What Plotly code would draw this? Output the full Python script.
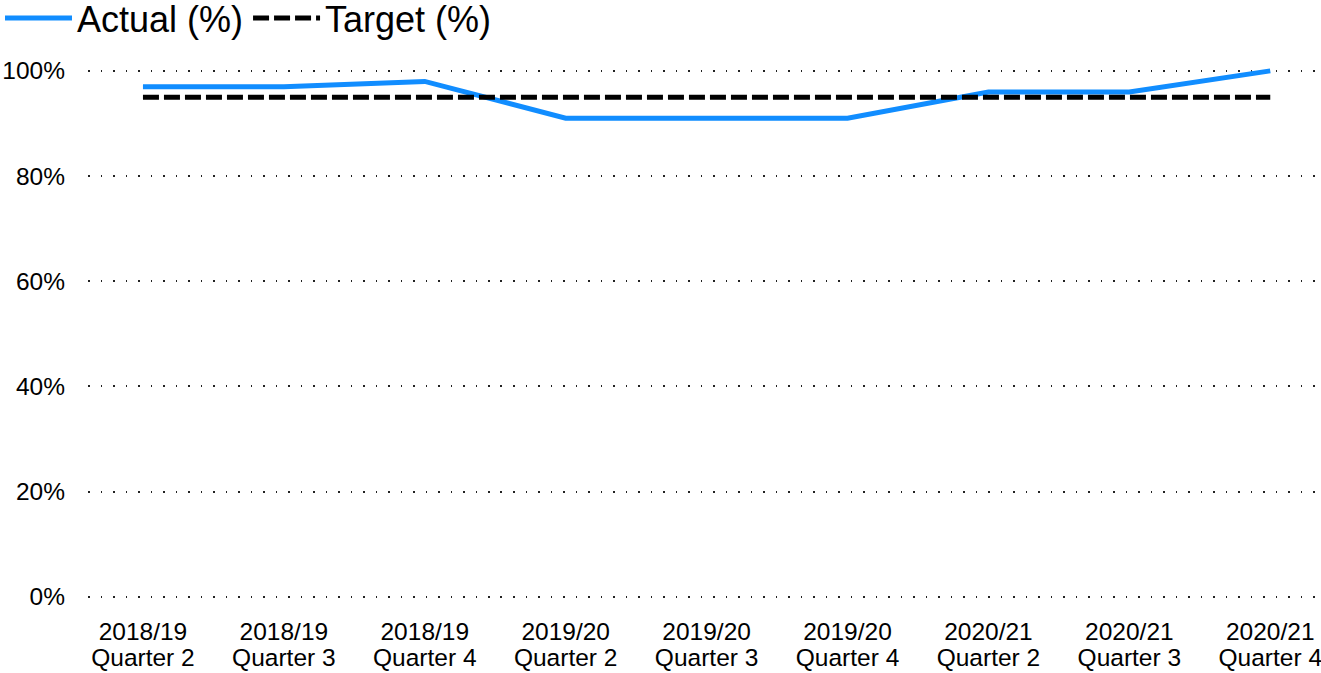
import plotly.graph_objects as go

# Quarterly performance against target
years = ["2018/19", "2018/19", "2018/19", "2019/20", "2019/20", "2019/20",
         "2020/21", "2020/21", "2020/21"]
quarters = ["Quarter 2", "Quarter 3", "Quarter 4"] * 3
periods = [f"{y} {q}" for y, q in zip(years, quarters)]
actual_pct = [97, 97, 98, 91, 91, 91, 96, 96, 100]
target_pct = [95, 95, 95, 95, 95, 95, 95, 95, 95]
y_ticks = [0, 20, 40, 60, 80, 100]
y_tick_labels = ["0%", "20%", "40%", "60%", "80%", "100%"]

FONT = "Liberation Sans, Arial, sans-serif"
LABEL_PX = 24.5

# Two-line category labels, set tighter than the default line spacing
span = "<span style='font-size:%spx'>%s</span>"
x_tick_text = [span % (LABEL_PX, y) + "<br>" + span % (LABEL_PX, q)
               for y, q in zip(years, quarters)]

fig = go.Figure()
fig.add_trace(go.Scatter(
    x=periods, y=actual_pct, mode="lines", name="Actual (%)",
    line=dict(color="#118DFF", width=5),
))
fig.add_trace(go.Scatter(
    x=periods, y=target_pct, mode="lines", name="Target (%)",
    line=dict(color="#000000", width=5, dash="16px,5px"),
))

fig.update_layout(
    width=1321, height=673,
    margin=dict(l=88, r=1, t=63, b=71, autoexpand=False),
    paper_bgcolor="white", plot_bgcolor="white",
    font=dict(family=FONT, color="#000000"),
    showlegend=True,
    legend=dict(
        orientation="h", xref="container", yref="paper",
        x=0, y=1.139, xanchor="left", yanchor="top",
        font=dict(size=36, family=FONT, color="#000000"),
        itemwidth=67, bgcolor="rgba(0,0,0,0)",
        tracegroupgap=0, itemsizing="constant",
    ),
    xaxis=dict(
        type="category", range=[-0.39, 8.353],
        tickvals=periods, ticktext=x_tick_text, tickangle=0,
        showgrid=False, zeroline=False, showline=False, ticks="",
        tickfont=dict(size=20, family=FONT, color="#000000"),
        ticklabelstandoff=17,
    ),
    yaxis=dict(
        range=[-1, 101.5], tickvals=y_ticks, ticktext=y_tick_labels,
        showgrid=True, gridcolor="#222222", gridwidth=1.5,
        griddash="1.5px,11px",
        zeroline=False, showline=False, ticks="",
        tickfont=dict(size=LABEL_PX, family=FONT, color="#000000"),
        ticklabelstandoff=22,
    ),
)

fig.write_html("out.html")
